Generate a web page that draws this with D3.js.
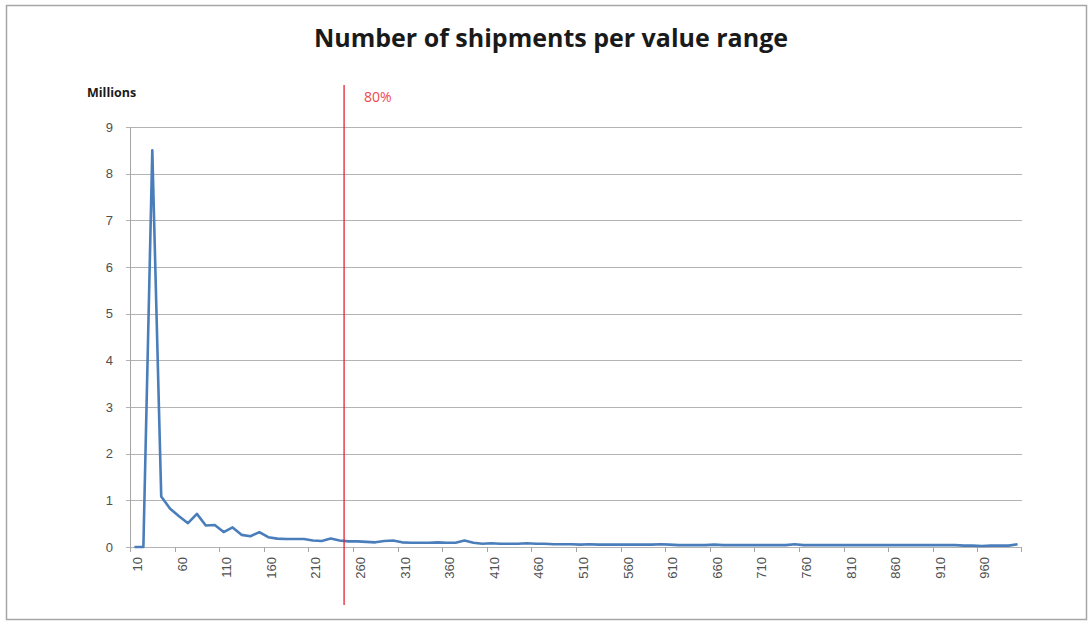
<!DOCTYPE html>
<html><head><meta charset="utf-8">
<script src="https://cdn.jsdelivr.net/npm/d3@7"></script>
<style>
html,body{margin:0;padding:0;background:#fff;}
svg{display:block;}
</style></head>
<body>
<svg id="chart" width="1092" height="626"></svg>
<script>
const categories = [10,20,30,40,50,60,70,80,90,100,110,120,130,140,150,160,170,180,190,200,
210,220,230,240,250,260,270,280,290,300,310,320,330,340,350,360,370,380,390,400,
410,420,430,440,450,460,470,480,490,500,510,520,530,540,550,560,570,580,590,600,
610,620,630,640,650,660,670,680,690,700,710,720,730,740,750,760,770,780,790,800,
810,820,830,840,850,860,870,880,890,900,910,920,930,940,950,960,970,980,990,1000];
const shipments = [0,0,8.5,1.08,0.82,0.66,0.51,0.71,0.46,0.47,
0.32,0.42,0.26,0.23,0.32,0.21,0.18,0.17,0.17,0.17,
0.14,0.13,0.18,0.14,0.12,0.12,0.11,0.10,0.13,0.14,
0.10,0.09,0.09,0.09,0.10,0.09,0.09,0.14,0.09,0.07,
0.08,0.07,0.07,0.07,0.08,0.07,0.07,0.06,0.06,0.06,
0.05,0.06,0.05,0.05,0.05,0.05,0.05,0.05,0.05,0.06,
0.05,0.04,0.04,0.04,0.04,0.05,0.04,0.04,0.04,0.04,
0.04,0.04,0.04,0.04,0.06,0.04,0.04,0.04,0.04,0.04,
0.04,0.04,0.04,0.04,0.04,0.04,0.04,0.04,0.04,0.04,
0.04,0.04,0.04,0.03,0.03,0.02,0.03,0.03,0.03,0.06];
const xTickLabels = ["10","60","110","160","210","260","310","360","410","460","510","560","610","660","710","760","810","860","910","960"];
const yTicks = [0,1,2,3,4,5,6,7,8,9];
const title = "Number of shipments per value range";
const yUnit = "Millions";
const markerLabel = "80%";
const markerBetween = [240, 250];

const svg = d3.select("#chart");
const pL = 130, pR = 1022, pT = 127, pB = 547;

svg.append("rect").attr("x",6.5).attr("y",5.5).attr("width",1080).attr("height",614)
  .attr("fill","#fff").attr("stroke","#a6a6a6").attr("stroke-width",1.5);

const x = d3.scaleBand().domain(categories).range([pL, pR]).paddingInner(0).paddingOuter(0);
const y = d3.scaleLinear().domain([0,9]).range([pB, pT]);
const xc = d => x(d) + x.bandwidth()/2;

// gridlines
svg.append("g").selectAll("line").data(yTicks).join("line")
  .attr("x1", pL-4).attr("x2", pR)
  .attr("y1", d=>Math.round(y(d))+0.5).attr("y2", d=>Math.round(y(d))+0.5)
  .attr("stroke", "#b3b3b3").attr("stroke-width", 1);

// y axis line
svg.append("line").attr("x1",pL+0.5).attr("x2",pL+0.5).attr("y1",pT).attr("y2",pB+4)
  .attr("stroke","#a6a6a6");

// y labels
svg.append("g").selectAll("text").data(yTicks).join("text")
  .attr("x", pL-17).attr("y", d=>y(d)+4.5)
  .attr("text-anchor","end").attr("font-family","Liberation Sans, Arial, sans-serif")
  .attr("font-size",13).attr("fill","#505050").text(d=>d);

// x ticks (between categories, every 5)
const tickCats = categories.filter((c,i)=> i%5===0);
svg.append("g").selectAll("line").data(tickCats.concat([null])).join("line")
  .attr("x1", d=> d===null ? pR-0.5 : Math.round(x(d))+0.5)
  .attr("x2", d=> d===null ? pR-0.5 : Math.round(x(d))+0.5)
  .attr("y1", pB).attr("y2", pB+5).attr("stroke","#a6a6a6");

// x labels
svg.append("g").selectAll("text").data(xTickLabels).join("text")
  .attr("transform", d=>`translate(${xc(+d)+7.5},${pB+10}) rotate(-90)`)
  .attr("text-anchor","end").attr("font-family","Liberation Sans, Arial, sans-serif")
  .attr("font-size",13).attr("fill","#505050").text(d=>d);

// series line
const line = d3.line().x((d,i)=>xc(categories[i])).y(d=>y(d));
svg.append("path").datum(shipments).attr("d", line)
  .attr("fill","none").attr("stroke","#4a7ebb").attr("stroke-width",2.6)
  .attr("stroke-linejoin","round");

// 80% marker
const mx = (xc(markerBetween[0]) + xc(markerBetween[1]))/2;
svg.append("line").attr("x1",mx).attr("x2",mx).attr("y1",85).attr("y2",605)
  .attr("stroke","#e8202a").attr("stroke-width",1.3);
svg.append("text").attr("x",mx+20).attr("y",102).attr("font-family","Open Sans, sans-serif")
  .attr("font-size",14).attr("fill","#f0484d").text(markerLabel);

// title
svg.append("text").attr("x",551).attr("y",47).attr("text-anchor","middle")
  .attr("font-family","Open Sans, sans-serif").attr("font-weight","bold")
  .attr("font-size",25).attr("fill","#1a1a1a").text(title);

// units
svg.append("text").attr("x",87).attr("y",97).attr("font-family","Open Sans, sans-serif")
  .attr("font-weight","bold").attr("font-size",12.5).attr("fill","#1a1a1a").text(yUnit);
</script>
</body></html>
